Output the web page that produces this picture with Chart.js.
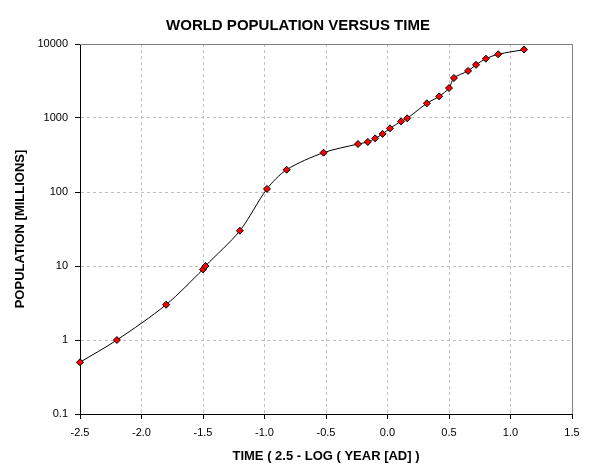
<!DOCTYPE html>
<html>
<head>
<meta charset="utf-8">
<script src="https://cdn.jsdelivr.net/npm/chart.js@4/dist/chart.umd.min.js"></script>
<style>
  body { margin: 0; background: #fff; }
  #wrap { width: 596px; height: 476px; }
</style>
</head>
<body>
<div id="wrap"><canvas id="chart" width="596" height="476"></canvas></div>
<script>
// time axis values: 2.5 - log(year)
var timeValues = [-2.5, -2.2, -1.8, -1.5, -1.48, -1.2, -0.98, -0.82, -0.52, -0.24, -0.16, -0.10, -0.04,
                  0.02, 0.11, 0.16, 0.32, 0.42, 0.50, 0.54, 0.655, 0.72, 0.80, 0.90, 1.11];
// population in millions
var popValues = [0.5, 1, 3, 9, 10, 30, 110, 200, 340, 445, 475, 530, 610,
                 725, 900, 990, 1580, 1960, 2540, 3470, 4330, 5240, 6330, 7260, 8400];
var yTicks = [0.1, 1, 10, 100, 1000, 10000];
var chartTitle = 'WORLD POPULATION VERSUS TIME';

var points = timeValues.map(function(t, i) { return { x: t, y: popValues[i] }; });

var fontFamily = "'Liberation Sans', Arial, sans-serif";

// gray frame on top and right of the plot area
var plotFrame = {
  id: 'plotFrame',
  beforeDatasetsDraw: function(chart) {
    var a = chart.chartArea, ctx = chart.ctx;
    ctx.save();
    ctx.strokeStyle = '#808080';
    ctx.lineWidth = 1;
    ctx.beginPath();
    ctx.moveTo(a.left, a.top + 0.5);
    ctx.lineTo(a.right + 0.5, a.top + 0.5);
    ctx.lineTo(a.right + 0.5, a.bottom);
    ctx.stroke();
    ctx.restore();
  }
};

// title centred on the whole canvas, like the original
var canvasTitle = {
  id: 'canvasTitle',
  afterDraw: function(chart) {
    var ctx = chart.ctx;
    ctx.save();
    ctx.fillStyle = '#000';
    ctx.font = 'bold 15px ' + fontFamily;
    ctx.textAlign = 'center';
    ctx.textBaseline = 'middle';
    ctx.fillText(chartTitle, chart.width / 2, 25.5);
    ctx.restore();
  }
};

new Chart(document.getElementById('chart').getContext('2d'), {
  type: 'scatter',
  data: {
    datasets: [{
      data: points,
      showLine: true,
      borderColor: '#000000',
      borderWidth: 1,
      tension: 0.3,
      pointStyle: 'rectRot',
      pointRadius: 3.5,
      pointHoverRadius: 3.5,
      pointBackgroundColor: '#ff0000',
      pointBorderColor: '#000000',
      pointBorderWidth: 1,
      clip: false
    }]
  },
  options: {
    responsive: false,
    animation: false,
    layout: { padding: { left: 0, right: 24, top: 44, bottom: 0 } },
    plugins: {
      legend: { display: false },
      tooltip: { enabled: false },
      title: { display: false }
    },
    scales: {
      x: {
        type: 'linear',
        min: -2.5,
        max: 1.5,
        afterFit: function(scale) { scale.height = 62; },
        ticks: {
          stepSize: 0.5,
          color: '#000',
          padding: 7,
          font: { family: fontFamily, size: 11 },
          callback: function(v) { return Number(v).toFixed(1); }
        },
        grid: {
          color: '#c0c0c0',
          tickColor: '#000',
          tickLength: 5,
          tickBorderDash: [1, 0]
        },
        border: { color: '#000', dash: [3, 3] },
        title: {
          display: true,
          text: 'TIME ( 2.5 - LOG ( YEAR [AD] )',
          color: '#000',
          font: { family: fontFamily, size: 13, weight: 'bold' },
          padding: { top: 4, bottom: 12.2 }
        }
      },
      y: {
        type: 'logarithmic',
        min: 0.1,
        max: 10000,
        afterFit: function(scale) { scale.width = 80; },
        afterBuildTicks: function(scale) {
          scale.ticks = yTicks.map(function(v) { return { value: v }; });
        },
        ticks: {
          color: '#000',
          padding: 7,
          font: { family: fontFamily, size: 11 },
          callback: function(v) { return String(v); }
        },
        grid: {
          color: '#c0c0c0',
          tickColor: '#000',
          tickLength: 5,
          tickBorderDash: [1, 0]
        },
        border: { color: '#000', dash: [3, 3] },
        title: {
          display: true,
          text: 'POPULATION [MILLIONS]',
          color: '#000',
          font: { family: fontFamily, size: 13, weight: 'bold' },
          padding: { top: 12.2, bottom: 4 }
        }
      }
    }
  },
  plugins: [plotFrame, canvasTitle]
});
</script>
</body>
</html>
